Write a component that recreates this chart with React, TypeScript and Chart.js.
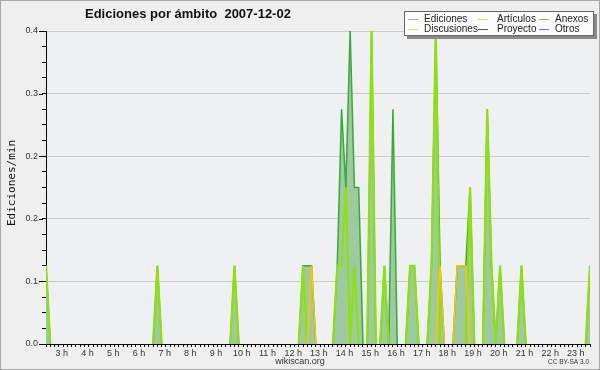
import React, { useEffect, useRef } from "react";
import { Chart, registerables } from "chart.js";

Chart.register(...registerables);

const TITLE = "Ediciones por ámbito  2007-12-02";
const Y_TITLE = "Ediciones/min";
const FOOTER = "wikiscan.org";
const LICENSE = "CC BY-SA 3.0";

// 10-minute bins from 02:30 to 23:40
const FIRST_BIN = "02:30";
const LAST_BIN = "23:40";
const BIN_MINUTES = 10;

const Y_MAX = 0.4;
const Y_MINOR_STEP = 0.02;
const Y_MAJOR_EVERY = 4; // gridline each 0.08

// non-zero bins [time, edits/min]; every other bin is 0
const EDICIONES: [string, number][] = [
  ["02:30", 0.1], ["06:50", 0.1], ["09:50", 0.1],
  ["12:30", 0.1], ["12:40", 0.1], ["12:50", 0.1],
  ["13:50", 0.1], ["14:00", 0.3], ["14:10", 0.2], ["14:20", 0.4], ["14:30", 0.2], ["14:40", 0.2],
  ["15:10", 0.4], ["15:40", 0.1], ["16:00", 0.3],
  ["16:40", 0.1], ["16:50", 0.1],
  ["17:30", 0.1], ["17:40", 0.4], ["17:50", 0.1],
  ["18:30", 0.1], ["18:40", 0.1], ["18:50", 0.1], ["19:00", 0.2],
  ["19:40", 0.3], ["19:50", 0.1], ["20:10", 0.1], ["21:00", 0.1], ["23:40", 0.1],
];
const ARTICULOS: [string, number][] = [
  ["02:30", 0.1], ["06:50", 0.1], ["09:50", 0.1], ["12:30", 0.1],
  ["13:50", 0.1], ["14:00", 0.1], ["14:10", 0.2], ["14:30", 0.1],
  ["15:10", 0.4], ["15:40", 0.1], ["16:40", 0.1], ["16:50", 0.1],
  ["17:30", 0.1], ["17:40", 0.4], ["19:00", 0.2], ["19:40", 0.3],
  ["19:50", 0.1], ["20:10", 0.1], ["21:00", 0.1], ["23:40", 0.1],
];
const DISCUSIONES: [string, number][] = [
  ["12:50", 0.1], ["17:50", 0.1], ["18:30", 0.1], ["18:40", 0.1], ["18:50", 0.1],
];
const ANEXOS: [string, number][] = [];
const PROYECTO: [string, number][] = [];
const OTROS: [string, number][] = [];

const LEGEND: { label: string; color: string; col: number; row: number }[] = [
  { label: "Ediciones", color: "#7ccc7c", col: 0, row: 0 },
  { label: "Artículos", color: "#c8ec40", col: 1, row: 0 },
  { label: "Anexos", color: "#ee8a50", col: 2, row: 0 },
  { label: "Discusiones", color: "#f8d850", col: 0, row: 1 },
  { label: "Proyecto", color: "#555555", col: 1, row: 1 },
  { label: "Otros", color: "#9a55ee", col: 2, row: 1 },
];

const toMin = (s: string) => {
  const [h, m] = s.split(":").map(Number);
  return h * 60 + m;
};
const X_MIN = toMin(FIRST_BIN);
const X_MAX = toMin(LAST_BIN);

const series = (vals: [string, number][]) => {
  const map = new Map(vals.map(([t, v]) => [toMin(t), v]));
  const pts: { x: number; y: number }[] = [];
  for (let m = X_MIN; m <= X_MAX; m += BIN_MINUTES) pts.push({ x: m, y: map.get(m) ?? 0 });
  return pts;
};

const hideZero = {
  borderColor: (ctx: any) =>
    ctx.p0.parsed.y === 0 && ctx.p1.parsed.y === 0 ? "rgba(0,0,0,0)" : undefined,
};

const decor = {
  id: "decor",
  beforeDraw(chart: any) {
    const { ctx, chartArea: a } = chart;
    ctx.save();
    ctx.fillStyle = "#efefef";
    ctx.fillRect(0, 0, chart.width, chart.height);
    ctx.fillStyle = "#eef0f2";
    ctx.fillRect(a.left, a.top, a.right - a.left, a.bottom - a.top);
    ctx.restore();
  },
  afterDraw(chart: any) {
    const { ctx } = chart;
    ctx.save();
    // longer major ticks on the y axis
    const ys = chart.scales.y;
    ctx.strokeStyle = "#000";
    ctx.lineWidth = 1;
    ys.ticks.forEach((t: any, i: number) => {
      if (i % Y_MAJOR_EVERY !== 0) return;
      const py = Math.round(ys.getPixelForValue(t.value)) + 0.5;
      ctx.beginPath();
      ctx.moveTo(39, py);
      ctx.lineTo(43, py);
      ctx.stroke();
    });
    // frame
    ctx.strokeStyle = "#a8a8a8";
    ctx.strokeRect(0.5, 0.5, chart.width - 1, chart.height - 1);
    // title
    ctx.fillStyle = "#111";
    ctx.font = 'bold 13px "Liberation Sans", Arial, sans-serif';
    ctx.textAlign = "left";
    ctx.textBaseline = "alphabetic";
    ctx.fillText(TITLE, 85, 18);
    // legend box
    ctx.fillStyle = "#8a8a8a";
    ctx.fillRect(407, 14, 190, 25);
    ctx.fillStyle = "#fcfcfc";
    ctx.fillRect(404, 11, 190, 25);
    ctx.strokeStyle = "#666";
    ctx.strokeRect(404.5, 11.5, 189, 24);
    const lineX = [408, 478, 539];
    const textX = [424, 497, 555];
    ctx.font = '10px "Liberation Sans", Arial, sans-serif';
    ctx.textBaseline = "middle";
    for (const it of LEGEND) {
      const y = 19 + it.row * 10;
      ctx.strokeStyle = it.color;
      ctx.lineWidth = 1;
      ctx.beginPath();
      ctx.moveTo(lineX[it.col], y + 0.5);
      ctx.lineTo(lineX[it.col] + 10, y + 0.5);
      ctx.stroke();
      ctx.fillStyle = "#222";
      ctx.fillText(it.label, textX[it.col], y + 0.5);
    }
    // y title
    ctx.save();
    ctx.translate(12, 183);
    ctx.rotate(-Math.PI / 2);
    ctx.font = '11px "DejaVu Sans Mono", monospace';
    ctx.textAlign = "center";
    ctx.fillStyle = "#111";
    ctx.fillText(Y_TITLE, 0, 0);
    ctx.restore();
    // footer
    ctx.fillStyle = "#333";
    ctx.textAlign = "center";
    ctx.font = '9px "Liberation Sans", Arial, sans-serif';
    ctx.fillText(FOOTER, 300, 362);
    ctx.textAlign = "right";
    ctx.font = '6.5px "Liberation Sans", Arial, sans-serif';
    ctx.fillText(LICENSE, 589, 362);
    ctx.restore();
  },
};

export default function App() {
  const ref = useRef<HTMLCanvasElement>(null);
  useEffect(() => {
    const base = {
      pointRadius: 0,
      pointHoverRadius: 0,
      tension: 0,
      fill: false,
      segment: hideZero,
    };
    const chart = new Chart(ref.current as HTMLCanvasElement, {
      type: "line",
      data: {
        datasets: [
          { ...base, label: "Anexos", data: series(ANEXOS), borderColor: "#ee8a50", borderWidth: 1, order: 0 },
          { ...base, label: "Proyecto", data: series(PROYECTO), borderColor: "#555555", borderWidth: 1, order: 0 },
          { ...base, label: "Otros", data: series(OTROS), borderColor: "#9a55ee", borderWidth: 1, order: 0 },
          { ...base, label: "Discusiones", data: series(DISCUSIONES), borderColor: "#ffc400", borderWidth: 1.5, order: 1 },
          { ...base, label: "Artículos", data: series(ARTICULOS), borderColor: "#8ee010", borderWidth: 2.2, order: 2 },
          {
            ...base,
            label: "Ediciones",
            data: series(EDICIONES),
            borderColor: "#38a838",
            backgroundColor: "#9fca9f",
            fill: "origin",
            borderWidth: 1.5,
            order: 3,
          },
        ] as any,
      },
      options: {
        responsive: false,
        devicePixelRatio: 1,
        animation: false,
        events: [],
        layout: { padding: { top: 31, right: 10, left: 0, bottom: 0 } },
        plugins: { legend: { display: false }, tooltip: { enabled: false }, title: { display: false } },
        scales: {
          x: {
            type: "linear",
            min: X_MIN,
            max: X_MAX,
            z: 1,
            grid: { display: true, drawOnChartArea: false, drawTicks: true, tickLength: 3, tickColor: "#000", color: "#000" },
            border: { display: true, color: "#000", width: 1 },
            afterBuildTicks: (s: any) => {
              const t: { value: number }[] = [];
              for (let m = X_MIN; m <= X_MAX; m += BIN_MINUTES) t.push({ value: m });
              s.ticks = t;
            },
            afterFit: (s: any) => {
              s.height = 26;
            },
            ticks: {
              autoSkip: false,
              maxRotation: 0,
              minRotation: 0,
              padding: 1,
              labelOffset: 3,
              color: "#333",
              font: { family: '"Liberation Sans", Arial, sans-serif', size: 9 },
              callback: (v: any) => (Number(v) % 60 === 0 ? `${Number(v) / 60} h` : ""),
            },
          },
          y: {
            min: 0,
            max: Y_MAX,
            grid: {
              color: (c: any) => (c.index % Y_MAJOR_EVERY === 0 ? "#cbcbcb" : "rgba(0,0,0,0)"),
              tickColor: "#000",
              tickLength: 4,
              drawTicks: true,
            },
            border: { display: true, color: "#000", width: 1 },
            afterBuildTicks: (s: any) => {
              const t: { value: number }[] = [];
              const n = Math.round(Y_MAX / Y_MINOR_STEP);
              for (let i = 0; i <= n; i++) t.push({ value: i * Y_MINOR_STEP });
              s.ticks = t;
            },
            afterFit: (s: any) => {
              s.width = 46;
            },
            ticks: {
              autoSkip: false,
              padding: 4,
              color: "#333",
              font: { family: '"Liberation Sans", Arial, sans-serif', size: 9 },
              callback: (v: any, i: number) => (i % Y_MAJOR_EVERY === 0 ? Number(v).toFixed(1) : ""),
            },
          },
        },
      } as any,
      plugins: [decor],
    });
    return () => chart.destroy();
  }, []);
  return (
    <div style={{ position: "fixed", left: 0, top: 0, width: 600, height: 370 }}>
      <canvas ref={ref} width={600} height={370} style={{ display: "block", width: 600, height: 370 }} />
    </div>
  );
}
